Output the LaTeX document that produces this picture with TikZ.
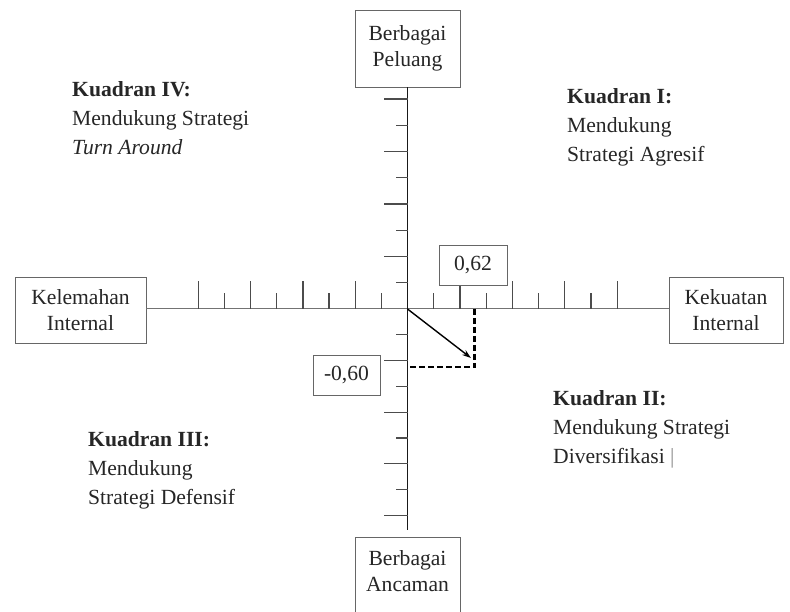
\documentclass[tikz,border=0pt]{standalone}
\usepackage{fontspec}
\setmainfont{Liberation Serif}
\usetikzlibrary{arrows.meta,calc}
\begin{document}
\begin{tikzpicture}[x=1pt,y=-1pt,
  txt/.style={font=\fontsize{21.6}{29}\selectfont, text=black!85},
  bx/.style={draw=black!60, line width=0.9pt, fill=white, align=center, inner sep=0pt,
             font=\fontsize{21.6}{26}\selectfont, text=black!85},
  quad/.style={txt, align=left, inner sep=0pt, anchor=north west},
  tickln/.style={draw=black!70, line width=1.2pt},
  dsh/.style={draw=black, line width=2.4pt, dash pattern=on 6pt off 3pt},
]
\useasboundingbox (0,0) rectangle (790,612);

% axis end boxes
\node[bx, minimum width=105, minimum height=77] (top) at (407.5,48.5) {Berbagai\\Peluang};
\node[bx, minimum width=105, minimum height=90] (bot) at (407.5,582) {};
\node[bx, draw=none, fill=none] (bottxt) at (407.5,571) {Berbagai\\Ancaman};
\node[bx, minimum width=131, minimum height=66] (left) at (80.5,310) {Kelemahan\\Internal};
\node[bx, minimum width=114, minimum height=66] (right) at (726,310) {Kekuatan\\Internal};

% axes
\coordinate (O) at (407.5,309);
\draw[black!55, line width=1pt] (left.east |- O) -- (right.west |- O);
\draw[black!90, line width=1.6pt] (top.south) -- ([yshift=7pt]bot.north);

% ticks
\foreach \k in {2,4,6,8}{
  \draw[tickln] ($(O)+(\k*26.2,0)$) -- ++(0,-28);
  \draw[tickln] ($(O)+(-\k*26.15,0)$) -- ++(0,-28);
  \draw[tickln] ($(O)+(0,-\k*26.25)$) -- ++(-24,0);
  \draw[tickln] ($(O)+(0,\k*25.8)$) -- ++(-24,0);
}
\foreach \k in {1,3,5,7}{
  \draw[tickln] ($(O)+(\k*26.2,0)$) -- ++(0,-16);
  \draw[tickln] ($(O)+(-\k*26.15,0)$) -- ++(0,-16);
  \draw[tickln] ($(O)+(0,-\k*26.25)$) -- ++(-12,0);
  \draw[tickln] ($(O)+(0,\k*25.8)$) -- ++(-12,0);
}

% position
\coordinate (P) at (474.5,367);
\coordinate (A) at (471,358);
\draw[dsh] (O -| P) -- (P) -- (O |- P);
\draw[-{Stealth[length=9pt,width=6pt]}, line width=1.4pt] (O) -- (A);

% value boxes
\node[bx, minimum width=68, minimum height=40] (v1) at (473,265) {0,62};
\node[bx, minimum width=67, minimum height=40] (v2) at (346.5,375) {-0,60};

% quadrant texts
\node[quad] (q4) at (72,81) {\textbf{Kuadran IV:}\\Mendukung Strategi\\\textit{Turn Around}};
\node[quad] (q1) at (567,88) {\textbf{Kuadran I:}\\Mendukung\\Strategi Agresif};
\node[quad] (q3) at (88,431) {\textbf{Kuadran III:}\\Mendukung\\Strategi Defensif};
\node[quad] (q2) at (553,390) {\textbf{Kuadran II:}\\Mendukung Strategi\\Diversifikasi \textcolor{black!45}{\textbar}};
\end{tikzpicture}
\end{document}
